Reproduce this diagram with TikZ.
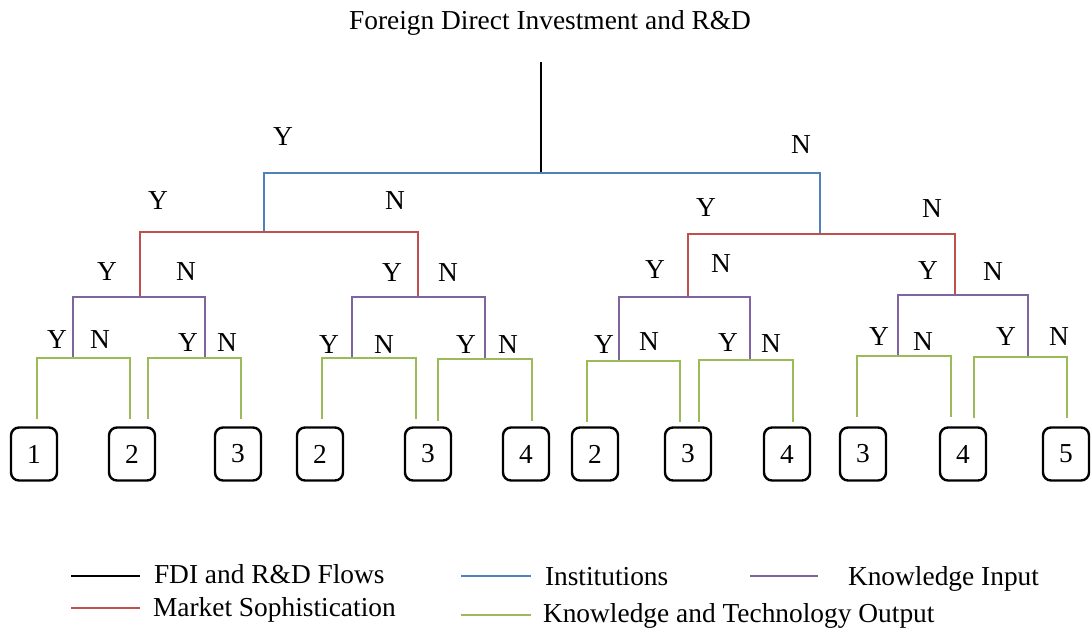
\documentclass[tikz,border=0pt]{standalone}
\usepackage{fontspec}
\setmainfont{Liberation Serif}
\definecolor{instblue}{RGB}{79,129,189}
\definecolor{mktred}{RGB}{192,80,77}
\definecolor{kinpurple}{RGB}{128,100,162}
\definecolor{koutgreen}{RGB}{155,187,89}
\begin{document}
\begin{tikzpicture}[x=1pt,y=-1pt,
  every node/.style={font=\fontsize{27.4}{32}\selectfont, inner sep=0pt, outer sep=0pt},
  flow/.style={line width=2.2pt, draw=black},
  inst/.style={line width=2.4pt, draw=instblue},
  mkt/.style={line width=2.4pt, draw=mktred},
  kin/.style={line width=2.4pt, draw=kinpurple},
  kout/.style={line width=2.4pt, draw=koutgreen},
  leaf/.style={draw=black, line width=2.4pt, rounded corners=8pt,
               minimum width=46pt, minimum height=53pt},
  yn/.style={anchor=center},
  legtext/.style={anchor=base west}
]
\useasboundingbox (0,0) rectangle (1091,633);

% title and root
\node[anchor=base] (title) at (550,29) {Foreign Direct Investment and R\&D};
\coordinate (r0) at (541,62);
\coordinate (j0) at (541,173);
\draw[flow] (r0) -- (j0);

% institutions split
\coordinate (jL) at (264,232);
\coordinate (jR) at (820,234);
\draw[inst] (jL) |- (j0) -| (jR);
\node[yn] (y0) at (283,137) {Y};
\node[yn] (n0) at (801,145) {N};

% market sophistication splits
\coordinate (m1) at (140,297);
\coordinate (m2) at (418,297);
\coordinate (m3) at (688,297);
\coordinate (m4) at (955,295);
\draw[mkt] (m1) |- (jL) -| (m2);
\draw[mkt] (m3) |- (jR) -| (m4);
\node[yn] (y1) at (158,201) {Y};
\node[yn] (n1) at (395,201) {N};
\node[yn] (y2) at (706,208) {Y};
\node[yn] (n2) at (932,209) {N};

% knowledge input splits
\coordinate (g1) at (73,358);
\coordinate (g2) at (205,358);
\coordinate (g3) at (352,358);
\coordinate (g4) at (485,359);
\coordinate (g5) at (619,361);
\coordinate (g6) at (750,360);
\coordinate (g7) at (898,356);
\coordinate (g8) at (1028,357);
\draw[kin] (g1) |- (m1) -| (g2);
\draw[kin] (g3) |- (m2) -| (g4);
\draw[kin] (g5) |- (m3) -| (g6);
\draw[kin] (g7) |- (m4) -| (g8);
\node[yn] (y3) at (107,272) {Y};
\node[yn] (n3) at (186,272) {N};
\node[yn] (y4) at (392,273) {Y};
\node[yn] (n4) at (448,273) {N};
\node[yn] (y5) at (655,270) {Y};
\node[yn] (n5) at (721,264) {N};
\node[yn] (y6) at (928,271) {Y};
\node[yn] (n6) at (993,272) {N};

% knowledge and technology output splits (leg ends)
\coordinate (e1) at (37,419);   \coordinate (e2) at (130,419);
\coordinate (e3) at (148,419);  \coordinate (e4) at (241,419);
\coordinate (e5) at (322,419);  \coordinate (e6) at (416,419);
\coordinate (e7) at (438,421);  \coordinate (e8) at (532,421);
\coordinate (e9) at (587,422);  \coordinate (e10) at (680,422);
\coordinate (e11) at (699,422); \coordinate (e12) at (793,422);
\coordinate (e13) at (857,417); \coordinate (e14) at (951,417);
\coordinate (e15) at (974,418); \coordinate (e16) at (1067,418);
\draw[kout] (e1) |- (g1) -| (e2);
\draw[kout] (e3) |- (g2) -| (e4);
\draw[kout] (e5) |- (g3) -| (e6);
\draw[kout] (e7) |- (g4) -| (e8);
\draw[kout] (e9) |- (g5) -| (e10);
\draw[kout] (e11) |- (g6) -| (e12);
\draw[kout] (e13) |- (g7) -| (e14);
\draw[kout] (e15) |- (g8) -| (e16);
\node[yn] (y7) at (57,340) {Y};
\node[yn] (n7) at (100,340) {N};
\node[yn] (y8) at (188,343) {Y};
\node[yn] (n8) at (227,343) {N};
\node[yn] (y9) at (329,345) {Y};
\node[yn] (n9) at (384,345) {N};
\node[yn] (y10) at (466,345) {Y};
\node[yn] (n10) at (508,345) {N};
\node[yn] (y11) at (604,345) {Y};
\node[yn] (n11) at (649,342) {N};
\node[yn] (y12) at (728,343) {Y};
\node[yn] (n12) at (771,344) {N};
\node[yn] (y13) at (879,337) {Y};
\node[yn] (n13) at (923,342) {N};
\node[yn] (y14) at (1006,337) {Y};
\node[yn] (n14) at (1059,337) {N};

% outcome scores
\node[leaf] (b1) at (34,454) {1};
\node[leaf] (b2) at (132,454) {2};
\node[leaf] (b3) at (238,454) {3};
\node[leaf] (b4) at (320,454) {2};
\node[leaf] (b5) at (428,454) {3};
\node[leaf] (b6) at (526,454) {4};
\node[leaf] (b7) at (595,454) {2};
\node[leaf] (b8) at (688,454) {3};
\node[leaf] (b9) at (787,454) {4};
\node[leaf] (b10) at (863,454) {3};
\node[leaf] (b11) at (963,454) {4};
\node[leaf] (b12) at (1066,454) {5};

% legend
\coordinate (k1a) at (71,576);  \coordinate (k1b) at (140,576);
\coordinate (k2a) at (71,608);  \coordinate (k2b) at (140,608);
\coordinate (k3a) at (461,576); \coordinate (k3b) at (531,576);
\coordinate (k4a) at (461,615); \coordinate (k4b) at (531,615);
\coordinate (k5a) at (750,576); \coordinate (k5b) at (818,576);
\draw[flow] (k1a) -- (k1b);
\draw[mkt] (k2a) -- (k2b);
\draw[inst] (k3a) -- (k3b);
\draw[kout] (k4a) -- (k4b);
\draw[kin] (k5a) -- (k5b);
\node[legtext] (t1) at (154,583) {FDI and R\&D Flows};
\node[legtext] (t2) at (153,616) {Market Sophistication};
\node[legtext] (t3) at (545,585) {Institutions};
\node[legtext] (t4) at (543,622) {Knowledge and Technology Output};
\node[legtext] (t5) at (848,585) {Knowledge Input};
\end{tikzpicture}
\end{document}
